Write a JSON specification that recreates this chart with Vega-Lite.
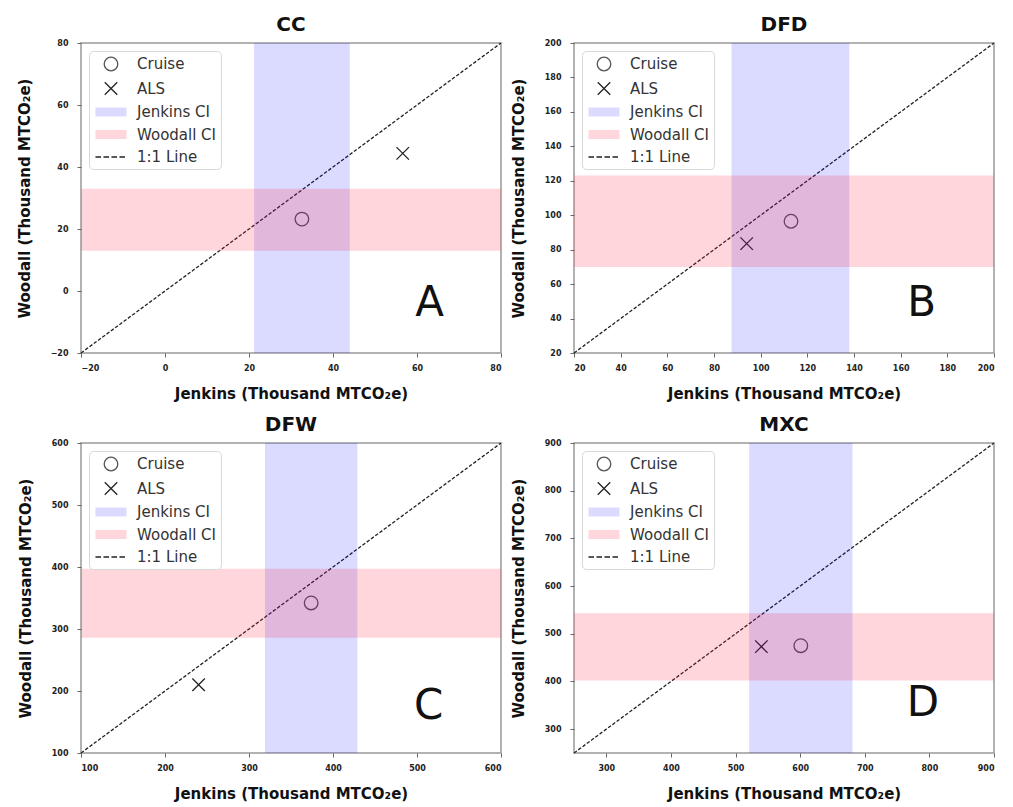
{
  "$schema": "https://vega.github.io/schema/vega-lite/v6.json",
  "padding": {"left": 16, "top": 14, "right": 5, "bottom": 5},
  "background": "white",
  "columns": 2,
  "spacing": {"row": 12, "column": 5},
  "concat": [
    {
      "title": "CC",
      "width": 420, "height": 310,
      "layer": [
        {"data": {"values": [{"v": -20}, {"v": 80}]},
         "mark": {"type": "line", "strokeDash": [3.5, 1.8], "stroke": "#222", "strokeWidth": 1.3},
         "encoding": {
           "x": {"field": "v", "type": "quantitative", "title": "Jenkins (Thousand MTCO₂e)", "scale": {"domain": [-20, 80], "nice": false, "zero": false}, "axis": {"values": [-20, 0, 20, 40, 60, 80], "tickCount": 20}},
           "y": {"field": "v", "type": "quantitative", "title": "Woodall (Thousand MTCO₂e)", "scale": {"domain": [-20, 80], "nice": false, "zero": false}, "axis": {"values": [-20, 0, 20, 40, 60, 80], "tickCount": 20}}}},
        {"data": {"values": [{"series": "Cruise", "v": 32.6, "w": 23.2}, {"series": "ALS", "v": 56.6, "w": 44.4}]},
         "mark": {"type": "point", "filled": true, "size": 256, "strokeWidth": 1.3, "opacity": 1},
         "encoding": {
           "x": {"field": "v", "type": "quantitative", "title": "Jenkins (Thousand MTCO₂e)"},
           "y": {"field": "w", "type": "quantitative", "title": "Woodall (Thousand MTCO₂e)"},
           "shape": {"field": "series", "type": "nominal", "scale": {"domain": ["Cruise", "ALS", "Jenkins CI", "Woodall CI", "1:1 Line"], "range": ["M0.85,0A0.85,0.85 0 1 1 -0.85,0A0.85,0.85 0 1 1 0.85,0Z", "M-0.78,-0.78L0.78,0.78M0.78,-0.78L-0.78,0.78", "M-1.94,-0.56H1.94V0.56H-1.94Z", "M-1.94,-0.56H1.94V0.56H-1.94Z", "M-1.94,0H-1.25M-0.94,0H-0.25M0.06,0H0.75M1.06,0H1.75"]},
                     "legend": {"title": null, "orient": "top-left", "offset": 8, "fillColor": "white", "strokeColor": "#d8d8d8", "cornerRadius": 4, "padding": 4, "labelFontSize": 15, "labelColor": "#333", "symbolSize": 256, "symbolStrokeWidth": 1.3, "rowPadding": 5.5, "labelOffset": 17, "symbolOffset": 9}},
           "fill": {"field": "series", "type": "nominal", "scale": {"domain": ["Cruise", "ALS", "Jenkins CI", "Woodall CI", "1:1 Line"], "range": ["transparent", "transparent", "#dbdbff", "#ffd6dc", "transparent"]}},
           "stroke": {"field": "series", "type": "nominal", "scale": {"domain": ["Cruise", "ALS", "Jenkins CI", "Woodall CI", "1:1 Line"], "range": ["#555", "#222", "transparent", "transparent", "#222"]}}}},
        {"data": {"values": [{"lo": 21.2, "hi": 44}]},
         "mark": {"type": "rect", "color": "#0000ff", "opacity": 0.14},
         "encoding": {"x": {"field": "lo", "type": "quantitative", "title": "Jenkins (Thousand MTCO₂e)"}, "x2": {"field": "hi"}}},
        {"data": {"values": [{"lo": 13, "hi": 33}]},
         "mark": {"type": "rect", "color": "#ff1a3c", "opacity": 0.18},
         "encoding": {"y": {"field": "lo", "type": "quantitative", "title": "Woodall (Thousand MTCO₂e)"}, "y2": {"field": "hi"}}},
        {"data": {"values": [{"v": 63, "w": -4, "label": "A"}]},
         "mark": {"type": "text", "fontSize": 42, "color": "#111", "baseline": "middle", "align": "center"},
         "encoding": {"x": {"field": "v", "type": "quantitative", "title": "Jenkins (Thousand MTCO₂e)"}, "y": {"field": "w", "type": "quantitative", "title": "Woodall (Thousand MTCO₂e)"}, "text": {"field": "label"}}}
      ]
    },
    {
      "title": "DFD",
      "width": 420, "height": 310,
      "layer": [
        {"data": {"values": [{"v": 20}, {"v": 200}]},
         "mark": {"type": "line", "strokeDash": [3.5, 1.8], "stroke": "#222", "strokeWidth": 1.3},
         "encoding": {
           "x": {"field": "v", "type": "quantitative", "title": "Jenkins (Thousand MTCO₂e)", "scale": {"domain": [20, 200], "nice": false, "zero": false}, "axis": {"values": [20, 40, 60, 80, 100, 120, 140, 160, 180, 200], "tickCount": 20}},
           "y": {"field": "v", "type": "quantitative", "title": "Woodall (Thousand MTCO₂e)", "scale": {"domain": [20, 200], "nice": false, "zero": false}, "axis": {"values": [20, 40, 60, 80, 100, 120, 140, 160, 180, 200], "tickCount": 20}}}},
        {"data": {"values": [{"series": "Cruise", "v": 113, "w": 96.5}, {"series": "ALS", "v": 94, "w": 83.5}]},
         "mark": {"type": "point", "filled": true, "size": 256, "strokeWidth": 1.3, "opacity": 1},
         "encoding": {
           "x": {"field": "v", "type": "quantitative", "title": "Jenkins (Thousand MTCO₂e)"},
           "y": {"field": "w", "type": "quantitative", "title": "Woodall (Thousand MTCO₂e)"},
           "shape": {"field": "series", "type": "nominal", "scale": {"domain": ["Cruise", "ALS", "Jenkins CI", "Woodall CI", "1:1 Line"], "range": ["M0.85,0A0.85,0.85 0 1 1 -0.85,0A0.85,0.85 0 1 1 0.85,0Z", "M-0.78,-0.78L0.78,0.78M0.78,-0.78L-0.78,0.78", "M-1.94,-0.56H1.94V0.56H-1.94Z", "M-1.94,-0.56H1.94V0.56H-1.94Z", "M-1.94,0H-1.25M-0.94,0H-0.25M0.06,0H0.75M1.06,0H1.75"]},
                     "legend": {"title": null, "orient": "top-left", "offset": 8, "fillColor": "white", "strokeColor": "#d8d8d8", "cornerRadius": 4, "padding": 4, "labelFontSize": 15, "labelColor": "#333", "symbolSize": 256, "symbolStrokeWidth": 1.3, "rowPadding": 5.5, "labelOffset": 17, "symbolOffset": 9}},
           "fill": {"field": "series", "type": "nominal", "scale": {"domain": ["Cruise", "ALS", "Jenkins CI", "Woodall CI", "1:1 Line"], "range": ["transparent", "transparent", "#dbdbff", "#ffd6dc", "transparent"]}},
           "stroke": {"field": "series", "type": "nominal", "scale": {"domain": ["Cruise", "ALS", "Jenkins CI", "Woodall CI", "1:1 Line"], "range": ["#555", "#222", "transparent", "transparent", "#222"]}}}},
        {"data": {"values": [{"lo": 87.5, "hi": 138}]},
         "mark": {"type": "rect", "color": "#0000ff", "opacity": 0.14},
         "encoding": {"x": {"field": "lo", "type": "quantitative", "title": "Jenkins (Thousand MTCO₂e)"}, "x2": {"field": "hi"}}},
        {"data": {"values": [{"lo": 70, "hi": 123}]},
         "mark": {"type": "rect", "color": "#ff1a3c", "opacity": 0.18},
         "encoding": {"y": {"field": "lo", "type": "quantitative", "title": "Woodall (Thousand MTCO₂e)"}, "y2": {"field": "hi"}}},
        {"data": {"values": [{"v": 169, "w": 49, "label": "B"}]},
         "mark": {"type": "text", "fontSize": 42, "color": "#111", "baseline": "middle", "align": "center"},
         "encoding": {"x": {"field": "v", "type": "quantitative", "title": "Jenkins (Thousand MTCO₂e)"}, "y": {"field": "w", "type": "quantitative", "title": "Woodall (Thousand MTCO₂e)"}, "text": {"field": "label"}}}
      ]
    },
    {
      "title": "DFW",
      "width": 420, "height": 310,
      "layer": [
        {"data": {"values": [{"v": 100}, {"v": 600}]},
         "mark": {"type": "line", "strokeDash": [3.5, 1.8], "stroke": "#222", "strokeWidth": 1.3},
         "encoding": {
           "x": {"field": "v", "type": "quantitative", "title": "Jenkins (Thousand MTCO₂e)", "scale": {"domain": [100, 600], "nice": false, "zero": false}, "axis": {"values": [100, 200, 300, 400, 500, 600], "tickCount": 20}},
           "y": {"field": "v", "type": "quantitative", "title": "Woodall (Thousand MTCO₂e)", "scale": {"domain": [100, 600], "nice": false, "zero": false}, "axis": {"values": [100, 200, 300, 400, 500, 600], "tickCount": 20}}}},
        {"data": {"values": [{"series": "Cruise", "v": 374, "w": 342}, {"series": "ALS", "v": 240, "w": 210}]},
         "mark": {"type": "point", "filled": true, "size": 256, "strokeWidth": 1.3, "opacity": 1},
         "encoding": {
           "x": {"field": "v", "type": "quantitative", "title": "Jenkins (Thousand MTCO₂e)"},
           "y": {"field": "w", "type": "quantitative", "title": "Woodall (Thousand MTCO₂e)"},
           "shape": {"field": "series", "type": "nominal", "scale": {"domain": ["Cruise", "ALS", "Jenkins CI", "Woodall CI", "1:1 Line"], "range": ["M0.85,0A0.85,0.85 0 1 1 -0.85,0A0.85,0.85 0 1 1 0.85,0Z", "M-0.78,-0.78L0.78,0.78M0.78,-0.78L-0.78,0.78", "M-1.94,-0.56H1.94V0.56H-1.94Z", "M-1.94,-0.56H1.94V0.56H-1.94Z", "M-1.94,0H-1.25M-0.94,0H-0.25M0.06,0H0.75M1.06,0H1.75"]},
                     "legend": {"title": null, "orient": "top-left", "offset": 8, "fillColor": "white", "strokeColor": "#d8d8d8", "cornerRadius": 4, "padding": 4, "labelFontSize": 15, "labelColor": "#333", "symbolSize": 256, "symbolStrokeWidth": 1.3, "rowPadding": 5.5, "labelOffset": 17, "symbolOffset": 9}},
           "fill": {"field": "series", "type": "nominal", "scale": {"domain": ["Cruise", "ALS", "Jenkins CI", "Woodall CI", "1:1 Line"], "range": ["transparent", "transparent", "#dbdbff", "#ffd6dc", "transparent"]}},
           "stroke": {"field": "series", "type": "nominal", "scale": {"domain": ["Cruise", "ALS", "Jenkins CI", "Woodall CI", "1:1 Line"], "range": ["#555", "#222", "transparent", "transparent", "#222"]}}}},
        {"data": {"values": [{"lo": 319, "hi": 429}]},
         "mark": {"type": "rect", "color": "#0000ff", "opacity": 0.14},
         "encoding": {"x": {"field": "lo", "type": "quantitative", "title": "Jenkins (Thousand MTCO₂e)"}, "x2": {"field": "hi"}}},
        {"data": {"values": [{"lo": 286, "hi": 397}]},
         "mark": {"type": "rect", "color": "#ff1a3c", "opacity": 0.18},
         "encoding": {"y": {"field": "lo", "type": "quantitative", "title": "Woodall (Thousand MTCO₂e)"}, "y2": {"field": "hi"}}},
        {"data": {"values": [{"v": 514, "w": 176, "label": "C"}]},
         "mark": {"type": "text", "fontSize": 42, "color": "#111", "baseline": "middle", "align": "center"},
         "encoding": {"x": {"field": "v", "type": "quantitative", "title": "Jenkins (Thousand MTCO₂e)"}, "y": {"field": "w", "type": "quantitative", "title": "Woodall (Thousand MTCO₂e)"}, "text": {"field": "label"}}}
      ]
    },
    {
      "title": "MXC",
      "width": 420, "height": 310,
      "layer": [
        {"data": {"values": [{"v": 250}, {"v": 900}]},
         "mark": {"type": "line", "strokeDash": [3.5, 1.8], "stroke": "#222", "strokeWidth": 1.3},
         "encoding": {
           "x": {"field": "v", "type": "quantitative", "title": "Jenkins (Thousand MTCO₂e)", "scale": {"domain": [250, 900], "nice": false, "zero": false}, "axis": {"values": [300, 400, 500, 600, 700, 800, 900], "tickCount": 20}},
           "y": {"field": "v", "type": "quantitative", "title": "Woodall (Thousand MTCO₂e)", "scale": {"domain": [250, 900], "nice": false, "zero": false}, "axis": {"values": [300, 400, 500, 600, 700, 800, 900], "tickCount": 20}}}},
        {"data": {"values": [{"series": "Cruise", "v": 601, "w": 475}, {"series": "ALS", "v": 540, "w": 473}]},
         "mark": {"type": "point", "filled": true, "size": 256, "strokeWidth": 1.3, "opacity": 1},
         "encoding": {
           "x": {"field": "v", "type": "quantitative", "title": "Jenkins (Thousand MTCO₂e)"},
           "y": {"field": "w", "type": "quantitative", "title": "Woodall (Thousand MTCO₂e)"},
           "shape": {"field": "series", "type": "nominal", "scale": {"domain": ["Cruise", "ALS", "Jenkins CI", "Woodall CI", "1:1 Line"], "range": ["M0.85,0A0.85,0.85 0 1 1 -0.85,0A0.85,0.85 0 1 1 0.85,0Z", "M-0.78,-0.78L0.78,0.78M0.78,-0.78L-0.78,0.78", "M-1.94,-0.56H1.94V0.56H-1.94Z", "M-1.94,-0.56H1.94V0.56H-1.94Z", "M-1.94,0H-1.25M-0.94,0H-0.25M0.06,0H0.75M1.06,0H1.75"]},
                     "legend": {"title": null, "orient": "top-left", "offset": 8, "fillColor": "white", "strokeColor": "#d8d8d8", "cornerRadius": 4, "padding": 4, "labelFontSize": 15, "labelColor": "#333", "symbolSize": 256, "symbolStrokeWidth": 1.3, "rowPadding": 5.5, "labelOffset": 17, "symbolOffset": 9}},
           "fill": {"field": "series", "type": "nominal", "scale": {"domain": ["Cruise", "ALS", "Jenkins CI", "Woodall CI", "1:1 Line"], "range": ["transparent", "transparent", "#dbdbff", "#ffd6dc", "transparent"]}},
           "stroke": {"field": "series", "type": "nominal", "scale": {"domain": ["Cruise", "ALS", "Jenkins CI", "Woodall CI", "1:1 Line"], "range": ["#555", "#222", "transparent", "transparent", "#222"]}}}},
        {"data": {"values": [{"lo": 521, "hi": 681}]},
         "mark": {"type": "rect", "color": "#0000ff", "opacity": 0.14},
         "encoding": {"x": {"field": "lo", "type": "quantitative", "title": "Jenkins (Thousand MTCO₂e)"}, "x2": {"field": "hi"}}},
        {"data": {"values": [{"lo": 402, "hi": 543}]},
         "mark": {"type": "rect", "color": "#ff1a3c", "opacity": 0.18},
         "encoding": {"y": {"field": "lo", "type": "quantitative", "title": "Woodall (Thousand MTCO₂e)"}, "y2": {"field": "hi"}}},
        {"data": {"values": [{"v": 790, "w": 355, "label": "D"}]},
         "mark": {"type": "text", "fontSize": 42, "color": "#111", "baseline": "middle", "align": "center"},
         "encoding": {"x": {"field": "v", "type": "quantitative", "title": "Jenkins (Thousand MTCO₂e)"}, "y": {"field": "w", "type": "quantitative", "title": "Woodall (Thousand MTCO₂e)"}, "text": {"field": "label"}}}
      ]
    }
  ],
  "resolve": {
    "scale": {"x": "independent", "y": "independent", "shape": "independent", "fill": "independent", "stroke": "independent"},
    "legend": {"shape": "independent", "fill": "independent", "stroke": "independent"}
  },
  "config": {
    "font": "DejaVu Sans",
    "view": {"stroke": "#999", "strokeWidth": 1.5},
    "axis": {"grid": false, "domain": false, "tickColor": "#666", "tickSize": 4, "labelFontSize": 8, "labelFontWeight": "bold", "labelColor": "#222", "labelOverlap": false, "titleFontSize": 15, "titleFontWeight": "bold", "titleColor": "#111"},
    "axisX": {"labelPadding": 7, "titlePadding": 14},
    "axisY": {"labelPadding": 9, "titlePadding": 18},
    "title": {"fontSize": 20, "fontWeight": "bold", "offset": 0, "color": "#111"}
  }
}
